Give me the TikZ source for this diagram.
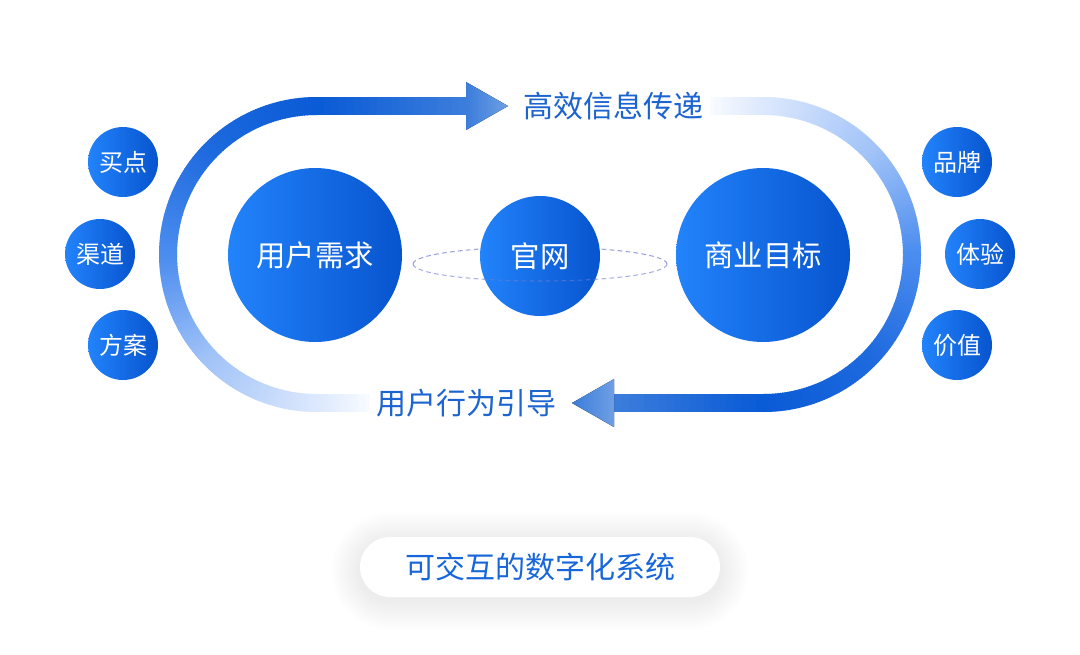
\documentclass[tikz,border=0pt]{standalone}
\usepackage{fontspec}
\newfontfamily\cjk{Noto Sans CJK SC}
\usetikzlibrary{calc}
\definecolor{trkW0}{HTML}{F8FBFF}
\definecolor{trkW1}{HTML}{DCE8FD}
\definecolor{trkB}{HTML}{A3C4F8}
\definecolor{trkC}{HTML}{4B8CEF}
\definecolor{trkD}{HTML}{1D69DE}
\definecolor{trkE}{HTML}{0A5BD6}
\definecolor{trkF}{HTML}{3B7DDB}
\definecolor{trkG}{HTML}{4A87DD}
\definecolor{circL}{HTML}{2283FB}
\definecolor{circR}{HTML}{0754CE}
\definecolor{lblblue}{HTML}{1C64D0}
\definecolor{pillblue}{HTML}{1766DA}
\definecolor{dashc}{HTML}{6F7BD2}
\definecolor{shadowc}{HTML}{8A96A8}
\newcommand\trkarc[3]{%
  \foreach \i in {0,...,44}{%
    \pgfmathtruncatemacro\p{100*\i/44}%
    \colorlet{segc}{#3!\p!#2}%
    \draw[segc,line width=13.5pt] (316.5,254.5) ++(#1+\i:148.5)
      arc[start angle=#1+\i, end angle=#1+\i+1.3, radius=148.5];
  }%
}
\newcommand\halfloop{%
  \foreach \i in {0,...,19}{%
    \pgfmathtruncatemacro\p{100*\i/19}%
    \colorlet{segc}{trkW1!\p!trkW0}%
    \draw[segc,line width=13.5pt] (370-\i*2.675,403) -- ++(-3.3,0);
  }%
  \trkarc{90}{trkW1}{trkB}%
  \trkarc{135}{trkB}{trkC}%
  \trkarc{180}{trkC}{trkD}%
  \trkarc{225}{trkD}{trkE}%
  \foreach \i in {0,...,19}{%
    \pgfmathtruncatemacro\p{100*\i/19}%
    \colorlet{segc}{trkF!\p!trkE}%
    \draw[segc,line width=13.5pt] (316.5+\i*7.5,106) -- ++(8.2,0);
  }%
  \fill[left color=trkF, right color=trkG!80!white] (466,82) -- (508,106) -- (466,130) -- cycle;
}
\tikzset{
  bigc/.style={circle, minimum size=130.5pt, inner sep=0pt, left color=circL, right color=circR, text=white,
    font=\cjk\fontsize{22pt}{26pt}\selectfont},
  midc/.style={circle, minimum size=90pt, inner sep=0pt, left color=circL, right color=circR, text=white,
    font=\cjk\fontsize{22pt}{26pt}\selectfont},
  smallc/.style={circle, minimum size=52.5pt, inner sep=0pt, left color=circL, right color=circR, text=white,
    font=\cjk\fontsize{18pt}{22pt}\selectfont},
  lbl/.style={text=lblblue, font=\cjk\fontsize{22.5pt}{27pt}\selectfont, inner sep=0pt},
  dashell/.style={dashc, line width=0.8pt, dash pattern=on 3.5pt off 2.5pt}
}
\begin{document}
\begin{tikzpicture}[x=0.75pt,y=-0.75pt]
\useasboundingbox[fill=white] (0,0) rectangle (1080,654);
% loop
\halfloop
\begin{scope}[rotate around={180:(540,254.5)}]
\halfloop
\end{scope}
\node[lbl] (toplbl) at (613.5,106) {高效信息传递};
\node[lbl] (botlbl) at (466.5,403) {用户行为引导};
% dashed ellipse back half
\draw[dashell, opacity=0.7] (413,264) arc[start angle=180, end angle=360, x radius=127, y radius=17];
% circles
\node[bigc] (need) at (315,255) {用户需求};
\node[midc] (site) at (540,256) {官网};
\node[bigc] (goal) at (763,255) {商业目标};
\draw[dashell, opacity=0.6] (667,264) arc[start angle=0, end angle=180, x radius=127, y radius=17];
% small circles
\node[smallc] (s1) at (123,162) {买点};
\node[smallc] (s2) at (100,254) {渠道};
\node[smallc] (s3) at (123,345) {方案};
\node[smallc] (s4) at (957,162) {品牌};
\node[smallc] (s5) at (980,254) {体验};
\node[smallc] (s6) at (957,345) {价值};
% pill shadow
\foreach \k in {1,...,18}{%
  \pgfmathsetmacro\rr{(30+\k*1.6)*0.75}%
  \fill[shadowc, opacity=0.006, rounded corners=\rr pt] (360-\k*1.6,537-\k*1.6+4) rectangle (720+\k*1.6,597+\k*1.6+4);
}
\node[fill=white, rounded corners=22.5pt, minimum width=270pt, minimum height=45pt, inner sep=0pt,
  text=pillblue, font=\cjk\fontsize{22.5pt}{27pt}\selectfont] (pill) at (540,567) {可交互的数字化系统};
\end{tikzpicture}
\end{document}
